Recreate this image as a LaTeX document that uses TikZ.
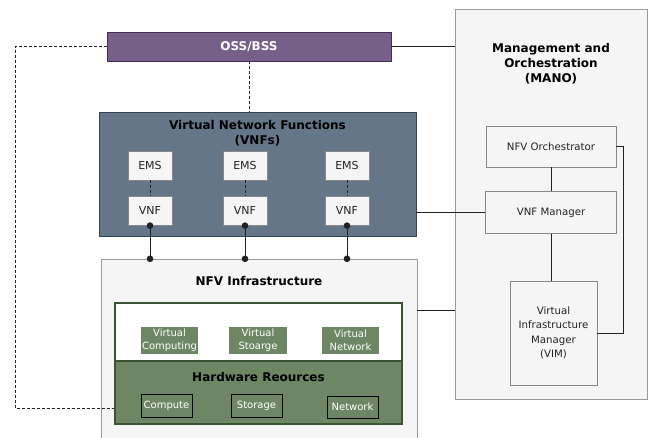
\documentclass[tikz,border=0pt]{standalone}
\usepackage{fontspec}
\setmainfont{DejaVu Sans}
\usepackage{tikz}
\usetikzlibrary{arrows.meta,positioning,calc}
\definecolor{NfvPurple}{HTML}{76608A}
\definecolor{NfvPurpleDark}{HTML}{432D57}
\definecolor{NfvSlate}{HTML}{647687}
\definecolor{NfvSlateDark}{HTML}{314354}
\definecolor{NfvGreen}{HTML}{6D8764}
\definecolor{NfvGreenDark}{HTML}{3A5431}
\definecolor{NfvLight}{HTML}{F5F5F5}
\definecolor{NfvGrey}{HTML}{888888}
\definecolor{NfvFrame}{HTML}{9A9A9A}
\definecolor{NfvInk}{HTML}{222222}
\tikzset{
  panel/.style={draw=NfvFrame,fill=NfvLight,inner sep=0pt},
  unit/.style={draw=NfvGrey,fill=NfvLight,align=center,inner sep=0pt,text=NfvInk,
    font=\fontsize{11}{13}\selectfont},
  title/.style={font=\fontsize{12}{15}\selectfont\bfseries,align=center,text=black},
  vres/.style={fill=NfvGreen,text=white,align=center,inner sep=0pt,
    font=\fontsize{10}{13}\selectfont,minimum width=57pt,minimum height=27pt},
  hres/.style={vres,draw=black,minimum width=51pt,minimum height=23pt},
  link/.style={draw=NfvInk,line width=0.8pt},
  ctrl/.style={link,dash pattern=on 3pt off 2pt},
  bond/.style={link,{Circle[length=6.5pt]}-{Circle[length=6.5pt]},
    shorten <=-3.25pt,shorten >=-3.25pt}
}
\begin{document}
\begin{tikzpicture}[x=1pt,y=-1pt]
  \useasboundingbox (0,0) rectangle (652,437);
  % management side
  \node[panel,minimum width=192pt,minimum height=390pt] (mano) at (551,204) {};
  \node[title] (manotitle) at (551,64) {Management and\\Orchestration\\(MANO)};
  \node[unit,minimum width=130pt,minimum height=41pt,font=\fontsize{10.2}{13}\selectfont]
    (nfvo) at (551,146.5) {NFV Orchestrator};
  \node[unit,minimum width=131pt,minimum height=42pt,font=\fontsize{10.2}{13}\selectfont,
    below=24pt of nfvo] (vnfm) {VNF Manager};
  \node[unit,minimum width=87pt,minimum height=104pt,font=\fontsize{10.2}{14.5}\selectfont]
    (vim) at (553.5,333) {Virtual\\Infrastructure\\Manager\\(VIM)};
  % oss
  \node[draw=NfvPurpleDark,fill=NfvPurple,text=white,inner sep=0pt,
    font=\fontsize{12}{15}\selectfont\bfseries,minimum width=284pt,minimum height=29pt]
    (oss) at (249,46.5) {OSS/BSS};
  % vnf layer
  \node[draw=NfvSlateDark,fill=NfvSlate,minimum width=317pt,minimum height=124pt]
    (vnfs) at (257.5,174) {};
  \node[title] (vnfstitle) at (257.5,133.5) {Virtual Network Functions\\(VNFs)};
  \foreach \i/\x in {1/150,2/245,3/347}{
    \node[unit,minimum width=44pt,minimum height=29pt] (ems\i) at (\x,165.5) {EMS};
    \node[unit,minimum width=44pt,minimum height=29pt,below=16pt of ems\i] (vnf\i) {VNF};
  }
  % infrastructure
  \node[panel,minimum width=316pt,minimum height=185pt] (nfvi) at (259,351.5) {};
  \node[title] (nfvititle) at (259,281) {NFV Infrastructure};
  \node[draw=NfvGreenDark,fill=white,line width=1.5pt,minimum width=287pt,minimum height=58pt]
    (virt) at (258.5,332) {};
  \node[draw=NfvGreenDark,fill=NfvGreen,line width=1.5pt,minimum width=287pt,minimum height=63pt]
    (hw) at (258.5,392.5) {};
  \node[title] (hwtitle) at (258.5,377) {Hardware Reources};
  \node[vres] (vcomp) at (169.5,340.5) {Virtual\\Computing};
  \node[vres,minimum width=58pt] (vstor) at (258,340.5) {Virtual\\Stoarge};
  \node[vres] (vnet) at (350.5,340.5) {Virtual\\Network};
  \node[hres] (compute) at (166.5,405.5) {Compute};
  \node[hres] (storage) at (256.5,405.5) {Storage};
  \node[hres,minimum height=22pt] (network) at (352.5,407) {Network};
  % connectors
  \coordinate (dcorner) at (15,408);
  \coordinate (nfvitap) at (417,310);
  \draw[ctrl] (oss.west) -| (dcorner) -- (hw.west |- dcorner);
  \draw[ctrl] (oss.south) -- (oss.south |- vnfs.north);
  \draw[link] (oss.east) -- (mano.west |- oss.east);
  \foreach \i in {1,2,3}{
    \draw[ctrl] (ems\i) -- (vnf\i);
    \draw[bond] (vnf\i.south) -- (vnf\i.south |- nfvi.north);
  }
  \draw[link] (vnfs.east |- vnfm) -- (vnfm.west);
  \draw[link] (nfvi.east |- nfvitap) -- (mano.west |- nfvitap);
  \draw[link] (nfvo) -- (vnfm);
  \draw[link] (vnfm.south) -- (vnfm.south |- vim.north);
  \draw[link] (nfvo.east) -- ++(7,0) |- (vim.east);
\end{tikzpicture}
\end{document}
